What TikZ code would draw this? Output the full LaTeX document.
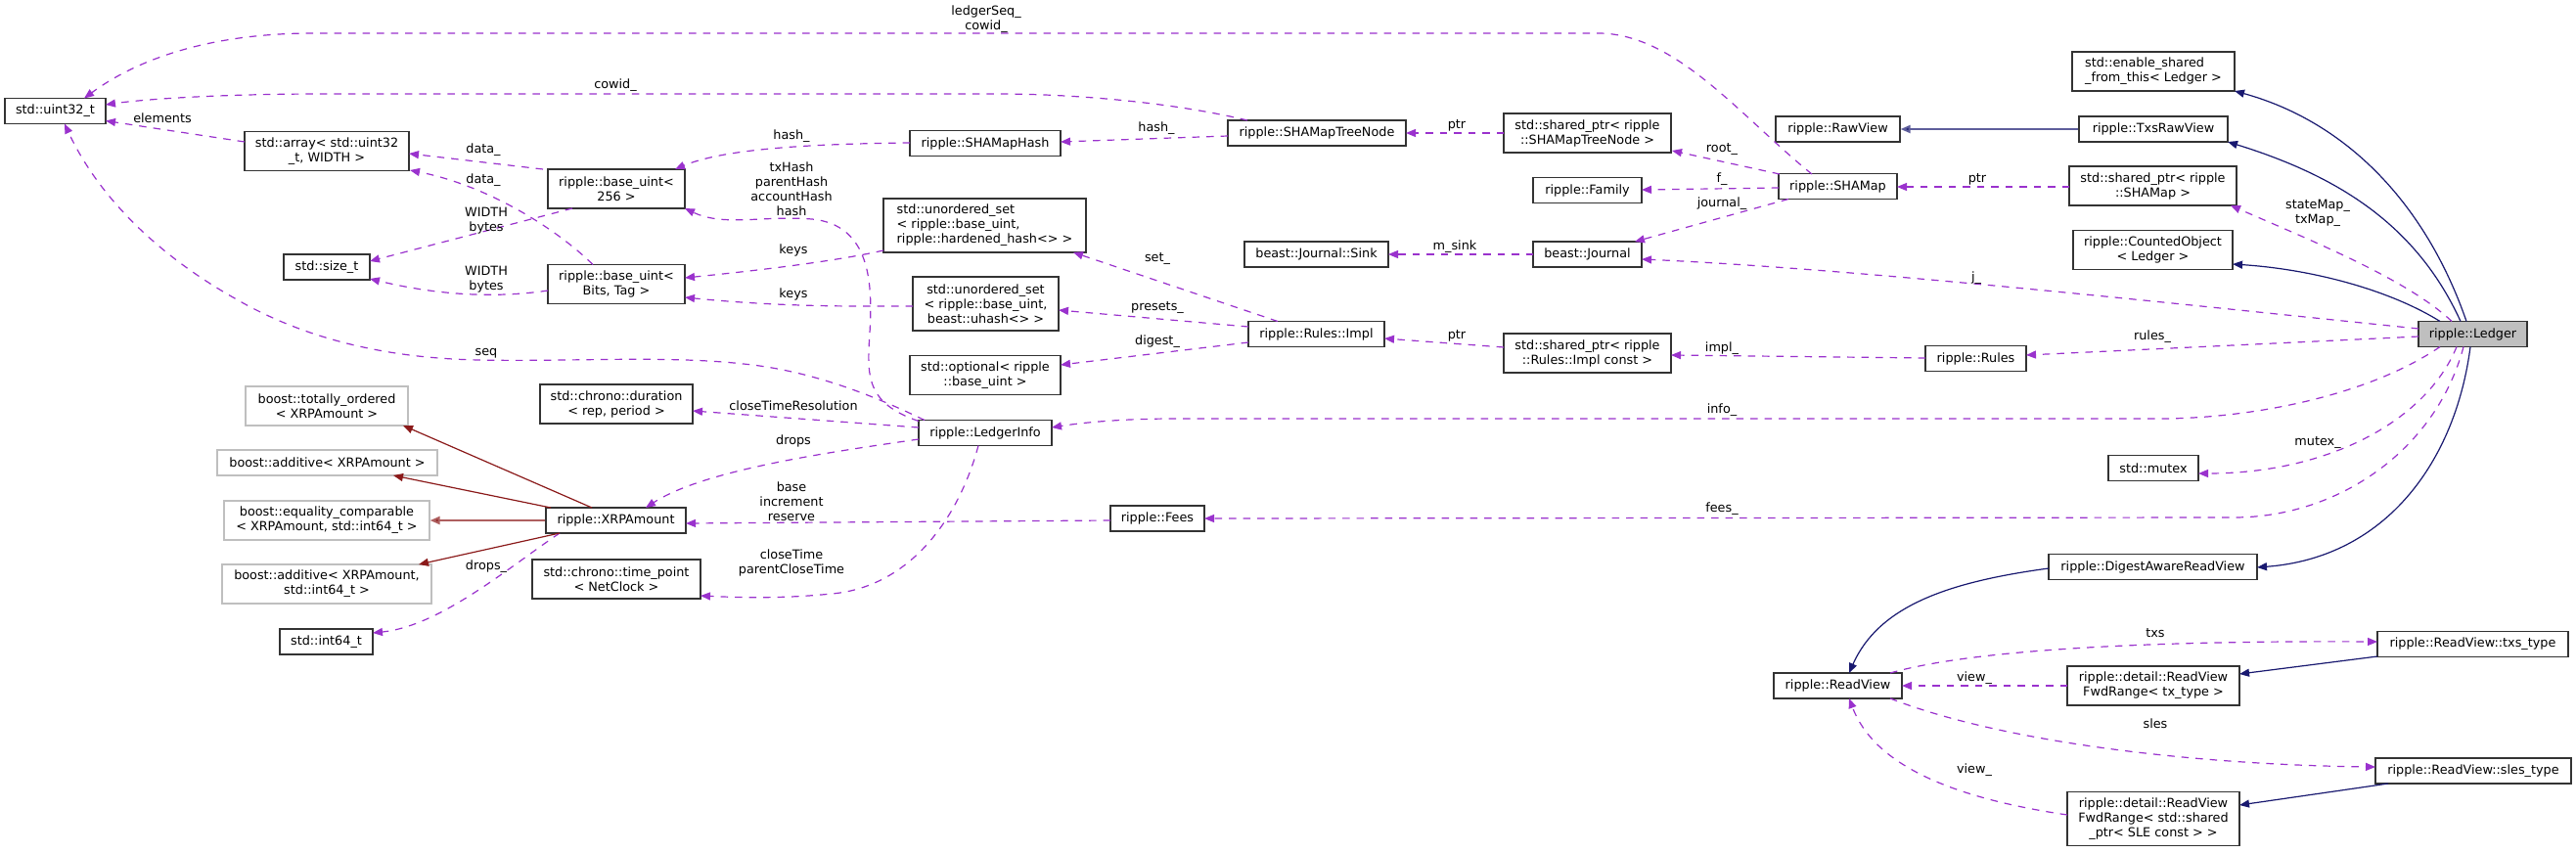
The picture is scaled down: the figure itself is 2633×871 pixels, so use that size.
\documentclass[tikz,border=0pt]{standalone}
\usepackage{fontspec}
\setmainfont{DejaVu Sans}
\usetikzlibrary{arrows.meta,calc}
\definecolor{usec}{HTML}{9A32CD}
\definecolor{inhb}{HTML}{191970}
\definecolor{inhr}{HTML}{8B1A1A}
\definecolor{greyb}{HTML}{BFBFBF}
\begin{document}
\begin{tikzpicture}[x=1pt,y=-1pt,
  box/.style={draw=black!80, line width=1.2pt, fill=white, inner sep=0pt, font=\fontsize{12.8}{15}\selectfont, align=center},
  gboxs/.style={box, draw=greyb},
  lbl/.style={inner sep=0pt, font=\fontsize{12.8}{15}\selectfont, align=center},
  use/.style={draw=usec, line width=1.2pt, dash pattern=on 7.5pt off 7pt, -{Triangle[length=10pt,width=8pt,fill=usec]}},
  inhblue/.style={draw=inhb, line width=1.2pt, -{Triangle[length=10pt,width=8pt,fill=inhb]}},
  inhred/.style={draw=inhr, line width=1.2pt, -{Triangle[length=10pt,width=8pt,fill=inhr]}}]
\useasboundingbox (0,0) rectangle (2633,871);
\fill[white] (0,0) rectangle (2633,871);

% nodes
\node[box,minimum width=103pt,minimum height=26pt] (uint32) at (56.5,113.5) {std::uint32\_t};
\node[box,minimum width=168pt,minimum height=40pt] (array) at (334,154.5) {std::array< std::uint32\\\_t, WIDTH >};
\node[box,minimum width=140pt,minimum height=40pt] (bu256) at (630,193) {ripple::base\_uint<\\256 >};
\node[box,minimum width=88pt,minimum height=26pt] (sizet) at (334,273) {std::size\_t};
\node[box,minimum width=140pt,minimum height=40pt] (bubits) at (630,290.5) {ripple::base\_uint<\\Bits, Tag >};
\node[gboxs,minimum width=166pt,minimum height=40pt] (totally) at (334,415) {boost::totally\_ordered\\< XRPAmount >};
\node[box,minimum width=156pt,minimum height=40pt] (duration) at (630,413) {std::chrono::duration\\< rep, period >};
\node[gboxs,minimum width=225pt,minimum height=26pt] (additive1) at (334.5,473) {boost::additive< XRPAmount >};
\node[gboxs,minimum width=210pt,minimum height=40pt] (equality) at (334,532) {boost::equality\_comparable\\< XRPAmount, std::int64\_t >};
\node[box,minimum width=143pt,minimum height=26pt] (xrp) at (629.5,532) {ripple::XRPAmount};
\node[gboxs,minimum width=214pt,minimum height=40pt] (additive2) at (334,597) {boost::additive< XRPAmount,\\std::int64\_t >};
\node[box,minimum width=95pt,minimum height=26pt] (int64) at (333.5,656) {std::int64\_t};
\node[box,minimum width=172pt,minimum height=40pt] (timepoint) at (630,592) {std::chrono::time\_point\\< NetClock >};
\node[box,minimum width=182pt,minimum height=26pt] (treenode) at (1346,136) {ripple::SHAMapTreeNode};
\node[box,minimum width=154pt,minimum height=26pt] (shamaphash) at (1007,146.5) {ripple::SHAMapHash};
\node[box,minimum width=171pt,minimum height=40pt] (sptree) at (1622.5,136) {std::shared\_ptr< ripple\\::SHAMapTreeNode >};
\node[box,minimum width=111pt,minimum height=26pt] (family) at (1622.5,194.5) {ripple::Family};
\node[box,align=left,minimum width=207pt,minimum height=55pt] (usethard) at (1006.5,230.5) {std::unordered\_set\\< ripple::base\_uint,\\ripple::hardened\_hash<> >};
\node[box,minimum width=147pt,minimum height=26pt] (sink) at (1345.5,260) {beast::Journal::Sink};
\node[box,minimum width=111pt,minimum height=26pt] (journal) at (1622.5,260) {beast::Journal};
\node[box,minimum width=149pt,minimum height=55pt] (usetuhash) at (1007.5,310.5) {std::unordered\_set\\< ripple::base\_uint,\\beast::uhash<> >};
\node[box,minimum width=139pt,minimum height=26pt] (rulesimpl) at (1345.5,341.5) {ripple::Rules::Impl};
\node[box,minimum width=154pt,minimum height=40pt] (optional) at (1007,383.5) {std::optional< ripple\\::base\_uint >};
\node[box,minimum width=171pt,minimum height=40pt] (spimpl) at (1622.5,361) {std::shared\_ptr< ripple\\::Rules::Impl const >};
\node[box,minimum width=136pt,minimum height=26pt] (ledgerinfo) at (1007,442.5) {ripple::LedgerInfo};
\node[box,minimum width=96pt,minimum height=26pt] (fees) at (1183,530) {ripple::Fees};
\node[box,align=left,minimum width=166pt,minimum height=40pt] (enable) at (2201,73) {std::enable\_shared\\\_from\_this< Ledger >};
\node[box,minimum width=127pt,minimum height=26pt] (rawview) at (1878.5,132) {ripple::RawView};
\node[box,minimum width=152pt,minimum height=26pt] (txsraw) at (2201,132) {ripple::TxsRawView};
\node[box,minimum width=121pt,minimum height=26pt] (shamap) at (1878.5,190.5) {ripple::SHAMap};
\node[box,minimum width=171pt,minimum height=40pt] (spshamap) at (2200.5,190) {std::shared\_ptr< ripple\\::SHAMap >};
\node[box,minimum width=163pt,minimum height=40pt] (counted) at (2200.5,255.5) {ripple::CountedObject\\< Ledger >};
\node[box,fill=greyb,minimum width=111pt,minimum height=26pt] (ledger) at (2527.5,341.5) {ripple::Ledger};
\node[box,minimum width=103pt,minimum height=26pt] (rules) at (2019.5,366.5) {ripple::Rules};
\node[box,minimum width=92pt,minimum height=26pt] (mutex) at (2201,478.5) {std::mutex};
\node[box,minimum width=213pt,minimum height=26pt] (digest) at (2200.5,579.5) {ripple::DigestAwareReadView};
\node[box,minimum width=131pt,minimum height=26pt] (readview) at (1878.5,701) {ripple::ReadView};
\node[box,minimum width=195pt,minimum height=26pt] (txstype) at (2527.5,658.5) {ripple::ReadView::txs\_type};
\node[box,minimum width=176pt,minimum height=40pt] (fwdtx) at (2201,701) {ripple::detail::ReadView\\FwdRange< tx\_type >};
\node[box,minimum width=200pt,minimum height=26pt] (slestype) at (2528,788) {ripple::ReadView::sles\_type};
\node[box,minimum width=176pt,minimum height=55pt] (fwdsle) at (2201,837) {ripple::detail::ReadView\\FwdRange< std::shared\\\_ptr< SLE const > >};

% usage edges
\draw[use] ($(shamap.center)+(-26.5,-12.5)$) .. controls (1780,120) and (1715,36) .. (1636,34) -- (320,34) .. controls (200,34) and (130,68) .. ($(uint32.center)+(29.5,-13)$);
\draw[use] ($(treenode.center)+(-71,-13)$) .. controls (1200,105) and (1100,96) .. (1020,96) -- (330,96) .. controls (230,96) and (150,101) .. ($(uint32.center)+(51.5,-6.5)$);
\draw[use] ($(array.center)+(-84,-9.5)$) -- ($(uint32.center)+(51.5,10)$);
\draw[use] ($(bu256.center)+(-75,-20)$) -- ($(array.center)+(84,2.5)$);
\draw[use] ($(bubits.center)+(-24,-20)$) .. controls (570,235) and (500,190) .. ($(array.center)+(85,19.5)$);
\draw[use] ($(bu256.center)+(-45,20)$) -- ($(sizet.center)+(44,-6)$);
\draw[use] ($(bubits.center)+(-70,6.5)$) .. controls (500,306) and (440,300) .. ($(sizet.center)+(44,12)$);
\draw[use] ($(shamaphash.center)+(-77,-0.5)$) .. controls (830,147) and (740,152) .. ($(bu256.center)+(60,-20)$);
\draw[use] ($(ledgerinfo.center)+(-68,-12)$) .. controls (885,412) and (886,385) .. (889,340) .. controls (892,290) and (890,230) .. (830,224) .. controls (780,220) and (740,232) .. ($(bu256.center)+(70,20)$);
\draw[use] ($(usethard.center)+(-103.5,25.5)$) .. controls (850,268) and (760,278) .. ($(bubits.center)+(70,-6.5)$);
\draw[use] ($(usetuhash.center)+(-74.5,2.5)$) -- (880,313) .. controls (800,313) and (740,308) .. ($(bubits.center)+(70,13.5)$);
\draw[use] ($(ledgerinfo.center)+(-62,-13)$) .. controls (880,398) and (820,378) .. (760,372) .. controls (680,363) and (580,370) .. (490,368) .. controls (380,366) and (300,340) .. (240,305) .. controls (160,260) and (100,200) .. ($(uint32.center)+(9.5,13)$);
\draw[use] ($(ledgerinfo.center)+(-68,-5.5)$) -- ($(duration.center)+(78,7)$);
\draw[use] ($(ledgerinfo.center)+(-68,6.5)$) .. controls (850,462) and (720,480) .. ($(xrp.center)+(30.5,-13)$);
\draw[use] ($(fees.center)+(-48,2)$) -- ($(xrp.center)+(71.5,3)$);
\draw[use] ($(ledgerinfo.center)+(-7,13)$) .. controls (980,530) and (930,600) .. (850,607) .. controls (800,612) and (760,611) .. ($(timepoint.center)+(86,17)$);
\draw[use] ($(xrp.center)+(-57.5,13)$) .. controls (520,580) and (450,640) .. ($(int64.center)+(47.5,-9)$);
\draw[use] ($(treenode.center)+(-91,3)$) -- ($(shamaphash.center)+(77,-1.5)$);
\draw[use] ($(sptree.center)+(-85.5,0)$) -- ($(treenode.center)+(91,0)$);
\draw[use] ($(shamap.center)+(-59.5,-12.5)$) -- ($(sptree.center)+(86.5,18)$);
\draw[use] ($(shamap.center)+(-60.5,1.5)$) -- ($(family.center)+(55.5,-0.5)$);
\draw[use] ($(shamap.center)+(-50.5,13)$) -- ($(journal.center)+(48.5,-13)$);
\draw[use] ($(journal.center)+(-55.5,0)$) -- ($(sink.center)+(73.5,0)$);
\draw[use] ($(rulesimpl.center)+(-39.5,-13)$) -- ($(usethard.center)+(90.5,27.5)$);
\draw[use] ($(rulesimpl.center)+(-69.5,-7.5)$) -- ($(usetuhash.center)+(74.5,6.5)$);
\draw[use] ($(rulesimpl.center)+(-69.5,8.5)$) -- ($(optional.center)+(77,-10.5)$);
\draw[use] ($(spimpl.center)+(-85.5,-6)$) -- ($(rulesimpl.center)+(69.5,4.5)$);
\draw[use] ($(rules.center)+(-51.5,-0.5)$) -- ($(spimpl.center)+(85.5,2)$);
\draw[use] ($(ledger.center)+(-55.5,2.5)$) -- ($(rules.center)+(51.5,-3.5)$);
\draw[use] ($(ledger.center)+(-55.5,-5.5)$) .. controls (2200,308) and (1900,275) .. ($(journal.center)+(55.5,5)$);
\draw[use] ($(ledger.center)+(-21.5,-13)$) .. controls (2460,285) and (2360,245) .. ($(spshamap.center)+(79.5,20)$);
\draw[use] ($(spshamap.center)+(-85.5,1)$) -- ($(shamap.center)+(60.5,0.5)$);
\draw[use] ($(ledger.center)+(-33.5,13)$) .. controls (2420,405) and (2300,428) .. (2206,428) -- (1200,428) .. controls (1140,428) and (1100,433) .. ($(ledgerinfo.center)+(68,-5.5)$);
\draw[use] ($(ledger.center)+(-16.5,13)$) .. controls (2480,430) and (2380,484) .. ($(mutex.center)+(46,5.5)$);
\draw[use] ($(ledger.center)+(-9.5,13)$) .. controls (2490,460) and (2390,529) .. (2283,529) -- ($(fees.center)+(48,0)$);
\draw[use] ($(readview.center)+(53.5,-13)$) .. controls (2030,660) and (2250,655) .. ($(txstype.center)+(-97.5,-2.5)$);
\draw[use] ($(fwdtx.center)+(-88,0)$) -- ($(readview.center)+(65.5,0)$);
\draw[use] ($(readview.center)+(53.5,13)$) .. controls (2050,760) and (2250,782) .. ($(slestype.center)+(-100,-4)$);
\draw[use] ($(fwdsle.center)+(-88,-4)$) .. controls (1990,815) and (1915,780) .. ($(readview.center)+(11.5,13)$);

% inheritance edges
\draw[inhblue] ($(ledger.center)+(-6.5,-13)$) .. controls (2480,210) and (2400,125) .. ($(enable.center)+(83,20)$);
\draw[inhblue] ($(ledger.center)+(-12.5,-13)$) .. controls (2470,230) and (2390,180) .. ($(txsraw.center)+(76,13)$);
\draw[inhblue,draw=inhb!70,line width=2pt] (txsraw.west) -- (rawview.east);
\draw[inhblue] ($(ledger.center)+(-33.5,-13)$) .. controls (2440,295) and (2360,275) .. ($(counted.center)+(81.5,14.5)$);
\draw[inhblue] ($(ledger.center)+(-2.5,13)$) .. controls (2510,470) and (2440,570) .. ($(digest.center)+(106.5,0.5)$);
\draw[inhblue] ($(digest.center)+(-106.5,1.5)$) .. controls (1990,595) and (1920,620) .. ($(readview.center)+(11.5,-13)$);
\draw[inhblue] ($(txstype.center)+(-97.5,12.5)$) -- ($(fwdtx.center)+(88,-12)$);
\draw[inhblue] ($(slestype.center)+(-87,13)$) -- ($(fwdsle.center)+(88,-14)$);
\draw[inhred] ($(xrp.center)+(-24.5,-13)$) -- ($(totally.center)+(78,20)$);
\draw[inhred] ($(xrp.center)+(-66.5,-13)$) -- ($(additive1.center)+(67.5,13)$);
\draw[inhred,draw=inhr!70,line width=2pt] (xrp.west) -- (equality.east);
\draw[inhred] ($(xrp.center)+(-57.5,13)$) -- ($(additive2.center)+(94,-20)$);

% labels
\node[lbl] (L1) at (1008,19.5) {ledgerSeq\_\\cowid\_};
\node[lbl] (L2) at (629,87) {cowid\_};
\node[lbl] (L3) at (166,121) {elements};
\node[lbl] (L4) at (494,153) {data\_};
\node[lbl] (L5) at (494,184) {data\_};
\node[lbl] (L6) at (497,226) {WIDTH\\bytes};
\node[lbl] (L7) at (497,286) {WIDTH\\bytes};
\node[lbl] (L8) at (809,139) {hash\_};
\node[lbl] (L9) at (809,193) {txHash\\parentHash\\accountHash\\hash};
\node[lbl] (L10) at (811,256) {keys};
\node[lbl] (L11) at (811,301) {keys};
\node[lbl] (L12) at (497,361) {seq};
\node[lbl] (L13) at (811,415) {closeTimeResolution};
\node[lbl] (L14) at (811,451) {drops};
\node[lbl] (L15) at (809,513) {base\\increment\\reserve};
\node[lbl] (L16) at (809,575) {closeTime\\parentCloseTime};
\node[lbl] (L17) at (497,579) {drops\_};
\node[lbl] (L18) at (1182,131) {hash\_};
\node[lbl] (L19) at (1489,128) {ptr};
\node[lbl] (L20) at (1760,153) {root\_};
\node[lbl] (L21) at (1760,183) {f\_};
\node[lbl] (L22) at (1760,208) {journal\_};
\node[lbl] (L23) at (1487,252) {m\_sink};
\node[lbl] (L24) at (1183,265) {set\_};
\node[lbl] (L25) at (1183,315) {presets\_};
\node[lbl] (L26) at (1183,349) {digest\_};
\node[lbl] (L27) at (1489,343) {ptr};
\node[lbl] (L28) at (1760,356) {impl\_};
\node[lbl] (L29) at (2200,344) {rules\_};
\node[lbl] (L30) at (2020,284) {j\_};
\node[lbl] (L31) at (2369,218) {stateMap\_\\txMap\_};
\node[lbl] (L32) at (2021,183) {ptr};
\node[lbl] (L33) at (1760,419) {info\_};
\node[lbl] (L34) at (2369,453) {mutex\_};
\node[lbl] (L35) at (1760,520) {fees\_};
\node[lbl] (L36) at (2203,647) {txs};
\node[lbl] (L37) at (2018,693) {view\_};
\node[lbl] (L38) at (2203,740) {sles};
\node[lbl] (L39) at (2018,787) {view\_};
\end{tikzpicture}
\end{document}
